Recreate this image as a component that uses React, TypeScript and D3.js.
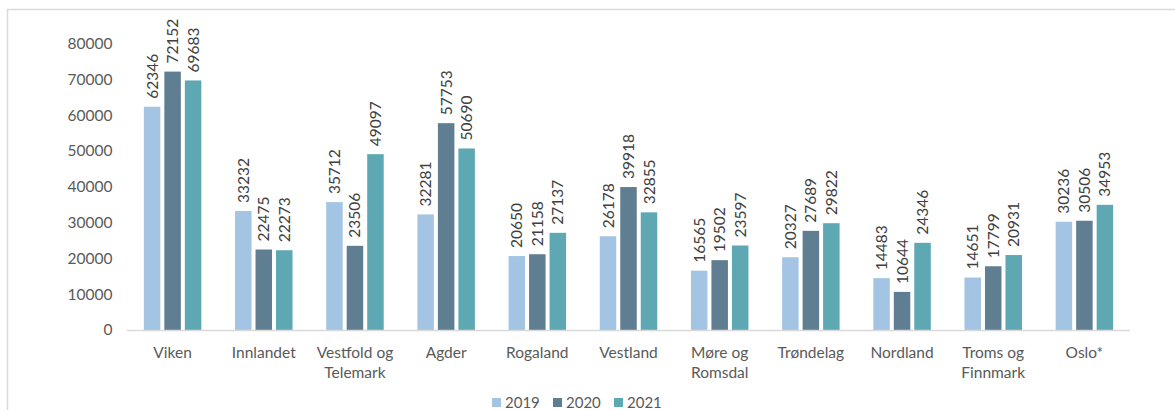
import React from "react";
import * as d3 from "d3";

const categories = ["Viken", "Innlandet", "Vestfold og|Telemark", "Agder", "Rogaland", "Vestland", "Møre og|Romsdal", "Trøndelag", "Nordland", "Troms og|Finnmark", "Oslo*"];
const series = ["2019", "2020", "2021"];
const v2019 = [62346, 33232, 35712, 32281, 20650, 26178, 16565, 20327, 14483, 14651, 30236];
const v2020 = [72152, 22475, 23506, 57753, 21158, 39918, 19502, 27689, 10644, 17799, 30506];
const v2021 = [69683, 22273, 49097, 50690, 27137, 32855, 23597, 29822, 24346, 20931, 34953];
const yTicks = [0, 10000, 20000, 30000, 40000, 50000, 60000, 70000, 80000];
const colors = ["#a3c5e3", "#5f7e91", "#5da8b3"];

export default function App() {
  const W = 1175, H = 410;
  const x0 = 127, x1 = 1130;
  const y = d3.scaleLinear().domain([0, 80000]).range([330, 43.5]);
  const xb = d3.scaleBand().domain(categories).range([x0, x1]).paddingInner(0).paddingOuter(0);
  const bw = 16.5, gap = 4;
  const vals = [v2019, v2020, v2021];
  const font = "Lato, 'Open Sans', sans-serif";
  return (
    <svg width={W} height={H} style={{ position: "absolute", left: 0, top: 0 }} fontFamily={font}>
      <rect x={0} y={0} width={W} height={H} fill="#fff" />
      <path d={`M7.5,${H}V9.5H${W}`} fill="none" stroke="#d9d9d9" strokeWidth={1.5} />
      {yTicks.map((t) => (
        <text key={t} x={112.5} y={y(t)} dy="0.35em" textAnchor="end" fontSize={15.5} fill="#595959">{t}</text>
      ))}
      {categories.map((c, i) => {
        const cx = (xb(c) as number) + xb.bandwidth() / 2;
        const start = cx - (3 * bw + 2 * gap) / 2;
        return (
          <g key={c}>
            {vals.map((arr, s) => {
              const bx = start + s * (bw + gap);
              const v = arr[i];
              const top = y(v);
              return (
                <g key={s}>
                  <rect x={bx} y={top} width={bw} height={330 - top} fill={colors[s]} />
                  <text transform={`translate(${bx + bw / 2 + 5.5},${top - 8}) rotate(-90)`} fontSize={15.5} fill="#404040">{v}</text>
                </g>
              );
            })}
            {c.split("|").map((line, k) => (
              <text key={k} x={cx} y={357.5 + k * 20} textAnchor="middle" fontSize={15.5} fill="#595959">{line}</text>
            ))}
          </g>
        );
      })}
      <line x1={x0} x2={x1} y1={330.5} y2={330.5} stroke="#d9d9d9" strokeWidth={1.5} />
      {series.map((s, k) => {
        const lx = 492 + k * 61;
        return (
          <g key={s}>
            <rect x={lx} y={398} width={9} height={9} fill={colors[k]} />
            <text x={lx + 13} y={407.5} fontSize={15} fill="#595959">{s}</text>
          </g>
        );
      })}
    </svg>
  );
}
